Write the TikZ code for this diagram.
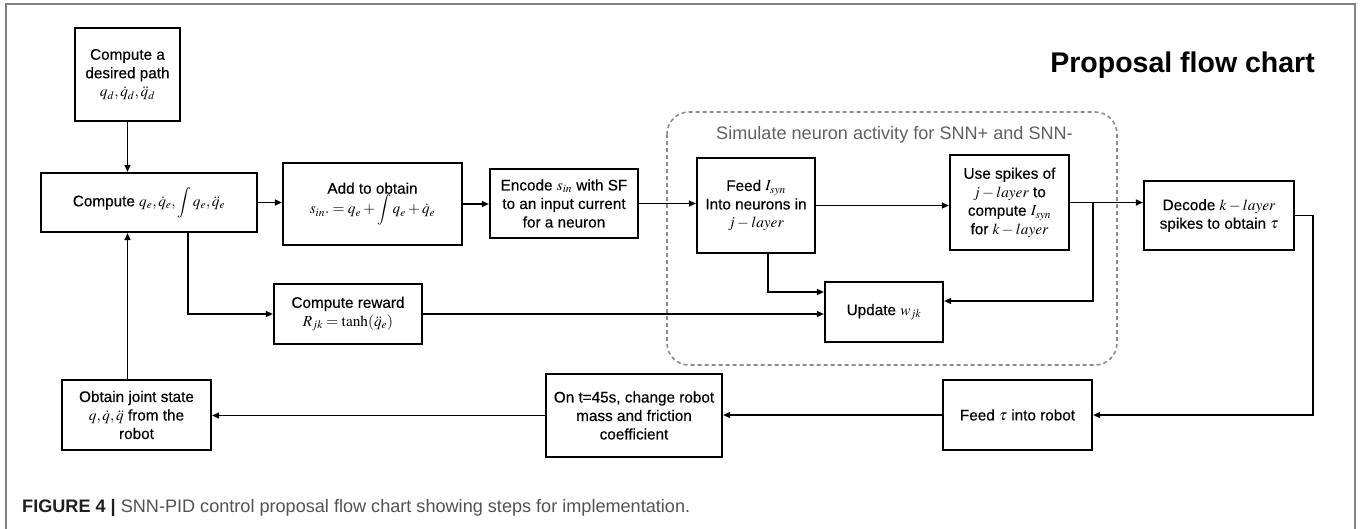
\documentclass[tikz,border=0pt]{standalone}
\usepackage{mathptmx}
\usepackage[no-math]{fontspec}
\setmainfont{Liberation Sans}
\newfontfamily\boxfont[FakeBold=0.35]{Liberation Sans}
\usetikzlibrary{arrows.meta}
\begin{document}
\begin{tikzpicture}[x=1pt,y=-1pt,
  box/.style={draw, line width=2.2pt, align=center, inner sep=0pt,
    font=\boxfont\fontsize{15.3}{18.5}\selectfont},
  conn/.style={line width=1.4pt, -{Triangle[length=7pt,width=6pt]}},
  grp/.style={draw=black!45, dash pattern=on 4pt off 3pt, line width=1.6pt, rounded corners=22pt}]
\useasboundingbox (0,0) rectangle (1362,528);
% frame
\draw[black!50, line width=1.5pt] (6,540) -- (6,4) -- (1355,4) -- (1355,540);
% title
\node[anchor=base east, inner sep=0pt, font=\bfseries\fontsize{28.5}{34}\selectfont] (title) at (1315,72) {Proposal flow chart};
% group
\draw[grp] (667,112) rectangle (1117,365);
\node[anchor=base, inner sep=0pt, text=black!62, font=\fontsize{18.1}{22}\selectfont] (glabel) at (894.5,139) {Simulate neuron activity for SNN+ and SNN-};
% boxes
\node[box, minimum width=105pt, minimum height=93pt] (path) at (127.5,74.5) {Compute a\\desired path\\$q_d, \dot q_d, \ddot q_d$};
\node[box, minimum width=216pt, minimum height=59pt] (comp) at (149,202.5) {Compute $q_e, \dot q_e, \displaystyle\int q_e, \ddot q_e$};
\node[box, minimum width=179pt, minimum height=82pt] (add) at (372.5,204) {Add to obtain\\$\displaystyle s_{in}. = q_e + \int q_e + \dot q_e$};
\node[box, minimum width=148pt, minimum height=69pt] (enc) at (564,203.5) {Encode $s_{in}$ with SF\\to an input current\\for a neuron};
\node[box, minimum width=118pt, minimum height=95pt] (feed) at (756,205.5) {Feed $I_{syn}$\\Into neurons in\\$j-layer$};
\node[box, minimum width=119pt, minimum height=95pt] (use) at (1009.5,202.5) {Use spikes of\\$j-layer$ to\\compute $I_{syn}$\\for $k-layer$};
\node[box, minimum width=150pt, minimum height=69pt] (dec) at (1219,215.5) {Decode $k-layer$\\spikes to obtain $\tau$};
\node[box, minimum width=148pt, minimum height=60pt] (rew) at (348,314) {Compute reward\\$R_{jk} = \tanh(\ddot q_e)$};
\node[box, minimum width=118pt, minimum height=60pt] (upd) at (884,312) {Update $w_{jk}$};
\node[box, minimum width=149pt, minimum height=70pt] (feedtau) at (1017.5,415) {Feed $\tau$ into robot};
\node[box, minimum width=176pt, minimum height=83pt] (on) at (634,415.5) {On t=45s, change robot\\mass and friction\\coefficient};
\node[box, minimum width=149pt, minimum height=70pt] (obt) at (136.5,415) {Obtain joint state\\$q, \dot q, \ddot q$ from the\\robot};
% connectors
\draw[conn] (path.south) -- (path.south |- comp.north);
\draw[conn] (obt.north -| path.south) -- (path.south |- comp.south);
\draw[conn] (comp.east) -- (comp.east -| add.west);
\draw[conn] (add.east) -- (add.east -| enc.west);
\draw[conn] (enc.east) -- (enc.east -| feed.west);
\draw[conn] (feed.east) -- (feed.east -| use.west);
\draw[conn] (use.east) -- (use.east -| dec.west);
\coordinate (br) at (use.east -| feedtau.east);
\draw[conn] (br) |- ([yshift=11pt]upd.east);
\draw[conn] ([xshift=12pt]feed.south) |- ([yshift=20pt]upd.west);
\draw[conn] ([xshift=39pt]comp.south) |- (rew.west);
\draw[conn] (rew.east) -- (rew.east -| upd.west);
\draw[conn] (dec.east) -- ++(18,0) |- (feedtau.east);
\draw[conn] (feedtau.west) -- (feedtau.west -| on.east);
\draw[conn] (on.west) -- (on.west -| obt.east);
% caption
\node[anchor=base west, inner sep=0pt, text=black!68, font=\fontsize{18.1}{22}\selectfont] (cap) at (22,512) {\textcolor{black!88}{\bfseries FIGURE 4 |} SNN-PID control proposal flow chart showing steps for implementation.};
\end{tikzpicture}
\end{document}
